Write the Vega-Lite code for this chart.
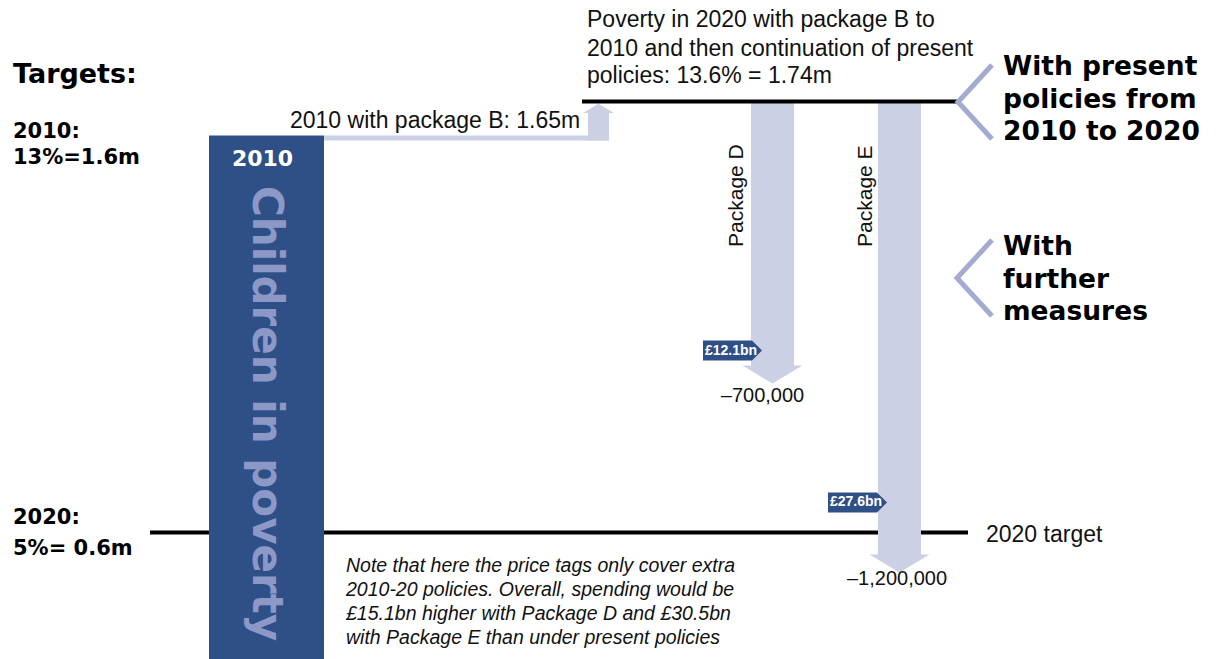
{
  "$schema": "https://vega.github.io/schema/vega-lite/v6.json",
  "width": 1228,
  "height": 659,
  "autosize": {"type": "fit", "contains": "padding"},
  "padding": 0,
  "background": "white",
  "config": {"view": {"stroke": null}},
  "datasets": {
    "lines": [
      {"name": "2020 target", "from": 150, "to": 968, "value": 0.6},
      {"name": "Present policies to 2020", "from": 582, "to": 958, "value": 1.74}
    ],
    "bar": [{"label": "2010", "left": 209, "right": 324, "value": 1.65, "base": 0}],
    "connector": [
      {"part": "band", "left": 324, "right": 609, "top": 1.65, "bottom": 1.6368},
      {"part": "shaft", "left": 588, "right": 609, "top": 1.7096, "bottom": 1.6368}
    ],
    "packages": [
      {"package": "D", "left": 751, "right": 794, "centre": 772.5, "from": 1.74, "to": 1.04},
      {"package": "E", "left": 878, "right": 921, "centre": 899.5, "from": 1.74, "to": 0.54}
    ],
    "uphead": [{"pos": 598.5, "value": 1.7096}],
    "tags": [
      {"cost": "£12.1bn", "pos": 732.5, "value": 1.0814, "textpos": 705},
      {"cost": "£27.6bn", "pos": 857.5, "value": 0.6794, "textpos": 830}
    ],
    "chevrons": [
      {"group": "present", "ord": 1, "pos": 992, "value": 1.8365},
      {"group": "present", "ord": 2, "pos": 958, "value": 1.7387},
      {"group": "present", "ord": 3, "pos": 992, "value": 1.6408},
      {"group": "further", "ord": 1, "pos": 992, "value": 1.3737},
      {"group": "further", "ord": 2, "pos": 957, "value": 1.2731},
      {"group": "further", "ord": 3, "pos": 992, "value": 1.1726}
    ],
    "labels": [
      {"style": "title", "text": "Targets:", "pos": 13, "value": 1.7889},
      {"style": "target", "text": "2010:", "pos": 13, "value": 1.6434},
      {"style": "target", "text": "13%=1.6m", "pos": 13, "value": 1.5747},
      {"style": "target", "text": "2020:", "pos": 13, "value": 0.6225},
      {"style": "target", "text": "5%= 0.6m", "pos": 13, "value": 0.5406},
      {"style": "heading", "text": "With present", "pos": 1003, "value": 1.8101},
      {"style": "heading", "text": "policies from", "pos": 1003, "value": 1.7228},
      {"style": "heading", "text": "2010 to 2020", "pos": 1003, "value": 1.6382},
      {"style": "heading", "text": "With", "pos": 1003, "value": 1.334},
      {"style": "heading", "text": "further", "pos": 1003, "value": 1.2467},
      {"style": "heading", "text": "measures", "pos": 1003, "value": 1.1621},
      {"style": "plain", "text": "2010 with package B: 1.65m", "pos": 290, "value": 1.6699},
      {"style": "plain", "text": "Poverty in 2020 with package B to", "pos": 587, "value": 1.9371},
      {"style": "plain", "text": "2010 and then continuation of present", "pos": 587, "value": 1.8603},
      {"style": "plain", "text": "policies: 13.6% = 1.74m", "pos": 587, "value": 1.7889},
      {"style": "plain", "text": "2020 target", "pos": 986, "value": 0.5749},
      {"style": "change", "text": "–700,000", "pos": 762.5, "value": 0.9452},
      {"style": "change", "text": "–1,200,000", "pos": 897, "value": 0.4611},
      {"style": "package", "text": "Package D", "pos": 743, "value": 1.3552},
      {"style": "package", "text": "Package E", "pos": 872, "value": 1.3552},
      {"style": "children", "text": "Children in poverty", "pos": 253, "value": 1.5165},
      {"style": "bartitle", "text": "2010", "pos": 262.5, "value": 1.5694},
      {"style": "italic", "text": "Note that here the price tags only cover extra", "pos": 346, "value": 0.4951},
      {"style": "italic", "text": "2010-20 policies. Overall, spending would be", "pos": 346, "value": 0.4316},
      {"style": "italic", "text": "£15.1bn higher with Package D and £30.5bn", "pos": 346, "value": 0.3681},
      {"style": "italic", "text": "with Package E than under present policies", "pos": 346, "value": 0.3047}
    ]
  },
  "layer": [
    {
      "data": {"name": "lines"},
      "transform": [{"filter": "datum.name == '2020 target'"}],
      "mark": {"type": "rule", "color": "#000000", "strokeWidth": 4},
      "encoding": {
        "x": {"field": "from", "type": "quantitative", "scale": {"domain": [0, 1228], "nice": false, "zero": false}, "axis": null},
        "x2": {"field": "to"},
        "y": {"field": "value", "type": "quantitative", "scale": {"domain": [0.2654, 2.0085], "nice": false, "zero": false}, "axis": null}
      }
    },
    {
      "data": {"name": "connector"},
      "mark": {"type": "rect", "color": "#ccd0e4"},
      "encoding": {
        "x": {"field": "left", "type": "quantitative", "axis": null},
        "x2": {"field": "right"},
        "y": {"field": "top", "type": "quantitative", "axis": null},
        "y2": {"field": "bottom"}
      }
    },
    {
      "data": {"name": "uphead"},
      "mark": {"type": "point", "filled": true, "opacity": 1, "strokeWidth": 0, "color": "#ccd0e4", "shape": "M-1,0L1,0L0,-0.6Z", "size": 961},
      "encoding": {
        "x": {"field": "pos", "type": "quantitative", "axis": null},
        "y": {"field": "value", "type": "quantitative", "axis": null}
      }
    },
    {
      "data": {"name": "bar"},
      "mark": {"type": "rect", "color": "#2f4f87", "clip": true},
      "encoding": {
        "x": {"field": "left", "type": "quantitative", "axis": null},
        "x2": {"field": "right"},
        "y": {"field": "value", "type": "quantitative", "axis": null},
        "y2": {"field": "base"}
      }
    },
    {
      "data": {"name": "packages"},
      "mark": {"type": "rect", "color": "#ccd0e4"},
      "encoding": {
        "x": {"field": "left", "type": "quantitative", "axis": null},
        "x2": {"field": "right"},
        "y": {"field": "from", "type": "quantitative", "axis": null},
        "y2": {"field": "to"}
      }
    },
    {
      "data": {"name": "packages"},
      "mark": {"type": "point", "filled": true, "opacity": 1, "strokeWidth": 0, "color": "#ccd0e4", "shape": "M-1,-0.02L1,-0.02L0,0.58Z", "size": 3600},
      "encoding": {
        "x": {"field": "centre", "type": "quantitative", "axis": null},
        "y": {"field": "to", "type": "quantitative", "axis": null}
      }
    },
    {
      "data": {"name": "lines"},
      "transform": [{"filter": "datum.name != '2020 target'"}],
      "mark": {"type": "rule", "color": "#000000", "strokeWidth": 4},
      "encoding": {
        "x": {"field": "from", "type": "quantitative", "axis": null},
        "x2": {"field": "to"},
        "y": {"field": "value", "type": "quantitative", "axis": null}
      }
    },
    {
      "data": {"name": "chevrons"},
      "mark": {"type": "line", "color": "#a4abd0", "strokeWidth": 5, "strokeJoin": "miter", "strokeCap": "butt"},
      "encoding": {
        "x": {"field": "pos", "type": "quantitative", "axis": null},
        "y": {"field": "value", "type": "quantitative", "axis": null},
        "detail": {"field": "group"},
        "order": {"field": "ord"}
      }
    },
    {
      "data": {"name": "tags"},
      "mark": {"type": "point", "filled": true, "opacity": 1, "strokeWidth": 0, "color": "#2f4f87", "shape": "M-1,-0.339L0.661,-0.339L1,0L0.661,0.339L-1,0.339Z", "size": 3481},
      "encoding": {
        "x": {"field": "pos", "type": "quantitative", "axis": null},
        "y": {"field": "value", "type": "quantitative", "axis": null}
      }
    },
    {
      "data": {"name": "tags"},
      "mark": {"type": "text", "color": "#ffffff", "font": "Liberation Sans", "fontWeight": "bold", "fontSize": 14, "align": "left", "baseline": "middle"},
      "encoding": {
        "x": {"field": "textpos", "type": "quantitative", "axis": null},
        "y": {"field": "value", "type": "quantitative", "axis": null},
        "text": {"field": "cost"}
      }
    },
    {
      "data": {"name": "labels"},
      "transform": [{"filter": "datum.style == 'title'"}],
      "mark": {"type": "text", "color": "#000000", "font": "DejaVu Sans", "fontWeight": "bold", "fontSize": 27, "align": "left", "baseline": "alphabetic"},
      "encoding": {
        "x": {"field": "pos", "type": "quantitative", "axis": null},
        "y": {"field": "value", "type": "quantitative", "axis": null},
        "text": {"field": "text"}
      }
    },
    {
      "data": {"name": "labels"},
      "transform": [{"filter": "datum.style == 'target'"}],
      "mark": {"type": "text", "color": "#000000", "font": "DejaVu Sans", "fontWeight": "bold", "fontSize": 21, "align": "left", "baseline": "alphabetic"},
      "encoding": {
        "x": {"field": "pos", "type": "quantitative", "axis": null},
        "y": {"field": "value", "type": "quantitative", "axis": null},
        "text": {"field": "text"}
      }
    },
    {
      "data": {"name": "labels"},
      "transform": [{"filter": "datum.style == 'heading'"}],
      "mark": {"type": "text", "color": "#000000", "font": "DejaVu Sans", "fontWeight": "bold", "fontSize": 26.5, "align": "left", "baseline": "alphabetic"},
      "encoding": {
        "x": {"field": "pos", "type": "quantitative", "axis": null},
        "y": {"field": "value", "type": "quantitative", "axis": null},
        "text": {"field": "text"}
      }
    },
    {
      "data": {"name": "labels"},
      "transform": [{"filter": "datum.style == 'plain'"}],
      "mark": {"type": "text", "color": "#111111", "font": "Liberation Sans", "fontSize": 23, "align": "left", "baseline": "alphabetic"},
      "encoding": {
        "x": {"field": "pos", "type": "quantitative", "axis": null},
        "y": {"field": "value", "type": "quantitative", "axis": null},
        "text": {"field": "text"}
      }
    },
    {
      "data": {"name": "labels"},
      "transform": [{"filter": "datum.style == 'change'"}],
      "mark": {"type": "text", "color": "#111111", "font": "Liberation Sans", "fontSize": 20, "align": "center", "baseline": "alphabetic"},
      "encoding": {
        "x": {"field": "pos", "type": "quantitative", "axis": null},
        "y": {"field": "value", "type": "quantitative", "axis": null},
        "text": {"field": "text"}
      }
    },
    {
      "data": {"name": "labels"},
      "transform": [{"filter": "datum.style == 'package'"}],
      "mark": {"type": "text", "color": "#111111", "font": "Liberation Sans", "fontSize": 21, "align": "left", "baseline": "alphabetic", "angle": 270},
      "encoding": {
        "x": {"field": "pos", "type": "quantitative", "axis": null},
        "y": {"field": "value", "type": "quantitative", "axis": null},
        "text": {"field": "text"}
      }
    },
    {
      "data": {"name": "labels"},
      "transform": [{"filter": "datum.style == 'children'"}],
      "mark": {"type": "text", "color": "#8c98c6", "font": "DejaVu Sans", "fontWeight": "bold", "fontSize": 42, "align": "left", "baseline": "alphabetic", "angle": 90},
      "encoding": {
        "x": {"field": "pos", "type": "quantitative", "axis": null},
        "y": {"field": "value", "type": "quantitative", "axis": null},
        "text": {"field": "text"}
      }
    },
    {
      "data": {"name": "labels"},
      "transform": [{"filter": "datum.style == 'bartitle'"}],
      "mark": {"type": "text", "color": "#ffffff", "font": "DejaVu Sans", "fontWeight": "bold", "fontSize": 22, "align": "center", "baseline": "alphabetic"},
      "encoding": {
        "x": {"field": "pos", "type": "quantitative", "axis": null},
        "y": {"field": "value", "type": "quantitative", "axis": null},
        "text": {"field": "text"}
      }
    },
    {
      "data": {"name": "labels"},
      "transform": [{"filter": "datum.style == 'italic'"}],
      "mark": {"type": "text", "color": "#111111", "font": "Liberation Sans", "fontStyle": "italic", "fontSize": 19.5, "align": "left", "baseline": "alphabetic"},
      "encoding": {
        "x": {"field": "pos", "type": "quantitative", "axis": null},
        "y": {"field": "value", "type": "quantitative", "axis": null},
        "text": {"field": "text"}
      }
    }
  ]
}
